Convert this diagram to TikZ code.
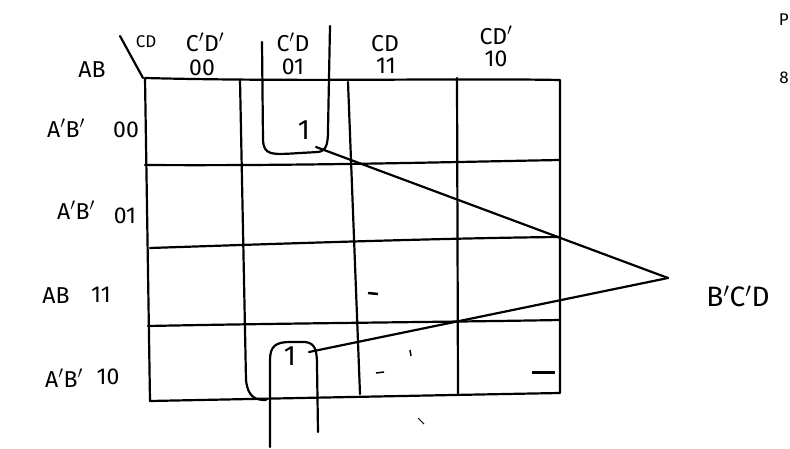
\documentclass[tikz,border=0pt]{standalone}
\usepackage{fontspec}
\setmainfont{Fira Sans}
\begin{document}
\begin{tikzpicture}[x=1pt,y=-1pt,
  pen/.style={line width=2.2pt,line cap=round,line join=round},
  lbl/.style={inner sep=0pt,font=\fontsize{23}{23}\selectfont},
  sml/.style={inner sep=0pt,font=\fontsize{17}{17}\selectfont},
  one/.style={inner sep=0pt,font=\fontsize{28}{28}\selectfont}]
\useasboundingbox (0,0) rectangle (790,449);
% outer grid
\draw[pen] (145,78) .. controls (300,82) and (450,78) .. (560,80) -- (560,393)
  .. controls (450,395) and (300,398) .. (150,401) -- (145,78);
% vertical lines
\draw[pen] (240,80) -- (246,380) .. controls (248,398) and (256,400) .. (266,400);
\draw[pen] (348,82) -- (360,394);
\draw[pen] (457,78) -- (458,394);
% horizontal lines
\draw[pen] (145,165) .. controls (300,166) and (450,162) .. (560,160);
\draw[pen] (150,248) .. controls (300,243) and (450,238) .. (560,237);
\draw[pen] (148,326) .. controls (300,323) and (450,322) .. (560,320);
% corner diagonal
\draw[pen] (120,36) -- (143,78);
% top loop
\draw[pen] (262,42) -- (263,140) .. controls (264,155) and (270,155) .. (300,153)
  -- (318,152) .. controls (326,151) and (328,145) .. (328,130) -- (330,26);
% bottom loop
\draw[pen] (270,447) -- (270,360) .. controls (270,346) and (276,342) .. (290,342)
  -- (305,342) .. controls (315,343) and (317,350) .. (317,365) -- (318,432);
% ones
\node[one] (o1) at (304,130) {1};
\node[one] (o2) at (290,356) {1};
\coordinate (t1) at (316,147);
\coordinate (t2) at (309,352);
\coordinate (P) at (668,278);
\draw[pen] (t1) -- (P);
\draw[pen] (t2) -- (P);
% column labels
\node[sml] (hcd) at (146,42) {CD};
\node[lbl] (c00) at (205,42) {C$'$D$'$};
\node[lbl] (n00) at (202,68) {00};
\node[lbl] (c01) at (293,42) {C$'$D};
\node[lbl] (n01) at (293,67) {01};
\node[lbl] (c11) at (385,44) {CD};
\node[lbl] (n11) at (386,66) {11};
\node[lbl] (c10) at (496,35) {CD$'$};
\node[lbl] (n10) at (496,59) {10};
\node[lbl] (hab) at (92,70) {AB};
% row labels
\node[lbl] (r1) at (66,128) {A$'$B$'$};
\node[lbl] (r1n) at (126,130) {00};
\node[lbl] (r2) at (76,210) {A$'$B$'$};
\node[lbl] (r2n) at (125,216) {01};
\node[lbl] (r3) at (56,296) {AB};
\node[lbl] (r3n) at (101,295) {11};
\node[lbl] (r4) at (64,378) {A$'$B$'$};
\node[lbl] (r4n) at (108,377) {10};
% result
\node[lbl,font=\fontsize{28}{28}\selectfont] (res) at (738,296) {B$'$C$'$D};
% text at right edge
\node[sml,anchor=east] (cut1) at (789,20) {P};
\node[sml,anchor=east] (cut2) at (789,78) {8};
% smudges
\draw[line width=2.5pt] (368,293) -- (378,294);
\draw[line width=1.5pt] (376,373) -- (384,372);
\draw[line width=1.5pt] (410,350) -- (411,356);
\draw[line width=3pt] (532,372) -- (555,372);
\draw[line width=1pt] (418,418) -- (424,424);
\end{tikzpicture}
\end{document}
